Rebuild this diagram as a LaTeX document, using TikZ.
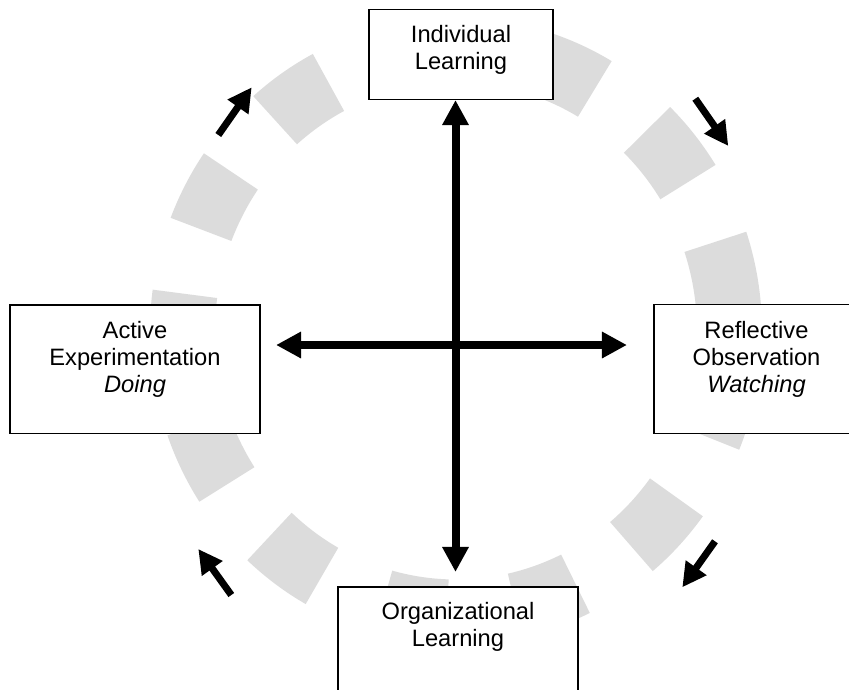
\documentclass[tikz,border=0pt]{standalone}
\usepackage{fontspec}
\setmainfont{Liberation Sans}
\usetikzlibrary{arrows.meta,calc}
\definecolor{ringgray}{RGB}{220,220,220}
\begin{document}
\begin{tikzpicture}[x=1pt,y=-1pt,
  ringseg/.style={draw=ringgray,line width=65pt,line cap=butt},
  stagebox/.style={draw=black,line width=1.5pt,fill=white,inner sep=0pt},
  stagetext/.style={font=\fontsize{23.7}{26.8}\selectfont,align=center,inner sep=0pt,anchor=north},
  bigarrow/.style={line width=8pt,-{Triangle[length=25pt,width=25pt]}},
  bigdouble/.style={line width=8pt,{Triangle[length=25pt,width=25pt]}-{Triangle[length=25pt,width=25pt]}},
  cyclearrow/.style={line width=7pt,-{Triangle[length=24pt,width=24pt]}}
]
\clip (0,0) rectangle (849,689);
\fill[white] (0,0) rectangle (849,689);
% dashed ring
\foreach \a/\b in {4.9/18.5,32.0/45.7,59.5/73.1,88.6/102.2,117.8/131.4,145.4/158.8,172.4/186.0,199.5/213.1,227.0/240.65,254.6/268.2,282.5/295.9,309.9/323.7,337.7/351.3}
  \draw[ringseg] plot[domain=\a:\b,samples=30,smooth] ({456+273.5*cos(\x)},{331-281*sin(\x)});
% boxes
\node[stagebox,minimum width=184pt,minimum height=89.8pt] (ind) at (461,54.4) {};
\node[stagebox,minimum width=250pt,minimum height=128.3pt] (ae) at (135,369.2) {};
\node[stagebox,minimum width=205pt,minimum height=128.6pt] (ro) at (756.5,369) {};
\node[stagebox,minimum width=240pt,minimum height=150pt] (org) at (458,662) {};
% texts
\node[stagetext] (indt) at ($(ind.north)+(0,16.8)$) {Individual\\Learning};
\node[stagetext] (aet) at ($(ae.north)+(0,17.3)$) {Active\\Experimentation\\\textit{Doing}};
\node[stagetext] (rot) at ($(ro.north)+(0,17.3)$) {Reflective\\Observation\\\textit{Watching}};
\node[stagetext] (orgt) at ($(org.north)+(0,16.2)$) {Organizational\\Learning};
% central axes
\coordinate (c) at (455.5,345);
\draw[bigdouble] (c |- ind.south) -- (c |- org.north) [shorten >=14.3pt];
\draw[bigdouble,shorten <=15.3pt,shorten >=26.3pt] (c -| ae.east) -- (c -| ro.west);
% cycle arrows
\coordinate (s1a) at (218.3,135); \coordinate (s1b) at (251.7,87.3);
\coordinate (s2a) at (695.3,98.7); \coordinate (s2b) at (728.3,146);
\coordinate (s3a) at (715,541.3); \coordinate (s3b) at (682.3,587.3);
\coordinate (s4a) at (231.3,595); \coordinate (s4b) at (198.3,549);
\draw[cyclearrow] (s1a) -- (s1b);
\draw[cyclearrow] (s2a) -- (s2b);
\draw[cyclearrow] (s3a) -- (s3b);
\draw[cyclearrow] (s4a) -- (s4b);
\end{tikzpicture}
\end{document}
